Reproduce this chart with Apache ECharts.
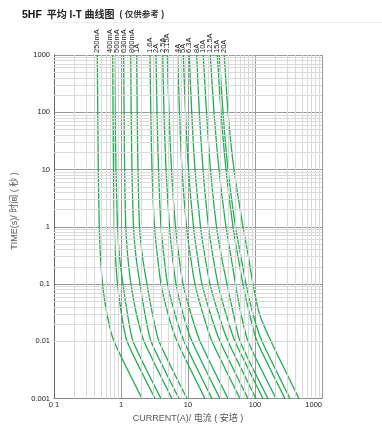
<!DOCTYPE html>
<html>
<head>
<meta charset="utf-8">
<script src="https://cdn.jsdelivr.net/npm/echarts@6/dist/echarts.min.js"></script>
<style>
html,body{margin:0;padding:0;background:#fff;}
#chart{width:382px;height:428px;}
</style>
</head>
<body>
<div id="chart"></div>
<script>
// ---- DATA ----
const timeLevels = [1000, 100, 10, 1, 0.3, 0.1, 0.03, 0.01, 0.001];
const fuseNames = ['250mA','400mA','500mA','630mA','800mA','1A','1.6A','2A','2.5A','3.15A','4A','5A','6.3A','8A','10A','12.5A','15A','','20A'];
const cur_250mA = [0.443, 0.450, 0.458, 0.474, 0.494, 0.530, 0.618, 0.786, 2.06];
const cur_400mA = [0.752, 0.760, 0.773, 0.794, 0.828, 0.887, 1.017, 1.229, 3.22];
const cur_500mA = [0.805, 0.819, 0.842, 0.887, 0.950, 1.071, 1.250, 1.51, 3.95];
const cur_630mA = [1.097, 1.112, 1.132, 1.179, 1.263, 1.410, 1.703, 2.205, 5.77];
const cur_800mA = [1.395, 1.420, 1.459, 1.537, 1.675, 1.921, 2.281, 2.804, 7.34];
const cur_1A    = [1.715, 1.745, 1.793, 1.888, 2.093, 2.444, 2.952, 3.691, 9.66];
const cur_1_6A  = [2.709, 2.785, 2.902, 3.162, 3.505, 3.954, 5.029, 6.852, 17.94];
const cur_2A    = [3.329, 3.446, 3.628, 3.954, 4.383, 4.944, 6.397, 8.716, 22.81];
const cur_2_5A  = [4.192, 4.383, 4.694, 5.295, 5.870, 6.621, 8.422, 11.47, 30.03];
const cur_3_15A = [4.909, 5.205, 5.671, 6.508, 7.34, 8.422, 11.09, 15.10, 39.54];
const cur_4A    = [7.019, 7.466, 8.136, 9.497, 10.90, 12.72, 16.75, 22.81, 59.72];
const cur_5A    = [8.510, 9.178, 10.17, 12.08, 13.86, 16.18, 21.67, 30.03, 78.6];
const cur_6_3A  = [10.46, 11.36, 12.72, 15.37, 17.94, 21.30, 28.52, 39.54, 103.5];
const cur_8A    = [13.49, 14.75, 16.75, 20.23, 23.61, 28.04, 36.92, 50.29, 131.7];
const cur_10A   = [16.92, 18.88, 21.67, 26.64, 31.62, 38.20, 47.76, 59.72, 156.3];
const cur_12_5A = [21.52, 24.44, 29.02, 36.92, 43.83, 51.17, 61.80, 78.62, 205.8];
const cur_15A   = [27.37, 31.08, 36.92, 46.95, 55.76, 66.22, 82.78, 107.1, 280.4];
const cur_15Ab  = [29.32, 33.30, 39.54, 51.17, 61.80, 73.40, 93.35, 127.2, 333.0];
const cur_20A   = [34.82, 39.54, 48.60, 66.22, 79.98, 93.35, 116.7, 173.3, 453.6];
const xTickLabels = {'-1':'0 1','0':'1','1':'10','2':'100','3':'1000'};
const yTickLabels = {'-3':'0.001','-2':'0.01','-1':'0.1','0':'1','1':'10','2':'100','3':'1000'};
const minorMult = [2,3,4,5,6,7,8,9];
const xDecades = [0.1, 1, 10, 100];
const yDecades = [0.001, 0.01, 0.1, 1, 10, 100];

// ---- BUILD ----
const allCurves = [cur_250mA,cur_400mA,cur_500mA,cur_630mA,cur_800mA,cur_1A,cur_1_6A,cur_2A,cur_2_5A,cur_3_15A,cur_4A,cur_5A,cur_6_3A,cur_8A,cur_10A,cur_12_5A,cur_15A,cur_15Ab,cur_20A];
// label offsets across the rotated text (local y = screen x after 90deg rotation)
const labelShift = {'400mA': -3, '500mA': 2.5, '800mA': 1};
const FONT = "'Liberation Sans', Arial, 'Noto Sans CJK SC', sans-serif";
const GREEN = '#1fae50';

const series = allCurves.map((arr, i) => {
  const name = fuseNames[i];
  const data = arr.map((c, k) => {
    const item = {value: [c, timeLevels[k]]};
    if (k === 0 && name) {
      item.label = {
        show: true, formatter: name, position: 'top', distance: 2,
        rotate: 90, align: 'left', verticalAlign: 'middle',
        offset: [0, labelShift[name] || 0],
        fontSize: 7.5, color: '#222', fontFamily: FONT
      };
    }
    return item;
  });
  return {
    type: 'line', name: name || ('c' + i), data: data,
    smooth: 0.2, showSymbol: true, symbol: 'circle', symbolSize: 0,
    lineStyle: {color: GREEN, width: 1.3}, itemStyle: {color: GREEN},
    label: {show: false}, z: 3, animation: false, silent: true
  };
});

const markData = [];
xDecades.forEach(d => minorMult.forEach(m => markData.push({xAxis: +(d*m).toPrecision(6)})));
yDecades.forEach(d => minorMult.forEach(m => markData.push({yAxis: +(d*m).toPrecision(6)})));
series.unshift({
  type: 'line', data: [[1, 1]], showSymbol: false, lineStyle: {opacity: 0}, z: 1,
  silent: true, animation: false,
  markLine: {
    silent: true, symbol: ['none', 'none'], animation: false,
    label: {show: false},
    lineStyle: {color: '#dadada', width: 1, type: 'solid'},
    emphasis: {disabled: true},
    data: markData
  }
});

const chart = echarts.init(document.getElementById('chart'), null, {renderer: 'canvas'});
chart.setOption({
  backgroundColor: '#fff',
  animation: false,
  title: {
    left: 17, top: 1,
    text: '{a|5HF} {b|平均 I-T 曲线图} {c|( 仅供参考 )}',
    textStyle: {
      rich: {
        a: {fontSize: 10.5, fontWeight: 'bold', color: '#111', fontFamily: FONT},
        b: {fontSize: 10, fontWeight: 'bold', color: '#222', fontFamily: FONT},
        c: {fontSize: 8.5, color: '#333', fontFamily: FONT}
      }
    }
  },
  grid: {left: 54, right: 60, top: 55, bottom: 27, containLabel: false},
  xAxis: {
    type: 'log', logBase: 10, min: 0.1, max: 1000, interval: 1,
    name: 'CURRENT(A)/ 电流 ( 安培 )', nameLocation: 'middle', nameGap: 15,
    nameTextStyle: {fontSize: 9, color: '#555', fontFamily: FONT},
    axisLine: {show: true, lineStyle: {color: '#888', width: 1}},
    axisTick: {show: false},
    axisLabel: {
      fontSize: 7.5, color: '#222', margin: 3, fontFamily: FONT, alignMaxLabel: 'right',
      formatter: v => xTickLabels[String(Math.round(Math.log10(v)))] || ''
    },
    splitLine: {show: true, lineStyle: {color: '#999', width: 1}}
  },
  yAxis: {
    type: 'log', logBase: 10, min: 0.001, max: 1000, interval: 1,
    axisLine: {show: true, lineStyle: {color: '#666', width: 1}},
    axisTick: {show: false},
    axisLabel: {
      fontSize: 7.5, color: '#222', margin: 4, fontFamily: FONT,
      formatter: v => yTickLabels[String(Math.round(Math.log10(v)))] || ''
    },
    splitLine: {show: true, lineStyle: {color: '#999', width: 1}}
  },
  graphic: [
    {type: 'text', x: 15, y: 211, rotation: Math.PI / 2,
     style: {text: 'TIME(s)/ 时间 ( 秒 )', fontSize: 9, fill: '#555', fontFamily: FONT,
             textAlign: 'center', textVerticalAlign: 'middle'}},
    {type: 'line', shape: {x1: 53, y1: 22.5, x2: 382, y2: 22.5},
     style: {stroke: '#eeeeee', lineWidth: 1}}
  ],
  series: series
});
</script>
</body>
</html>
